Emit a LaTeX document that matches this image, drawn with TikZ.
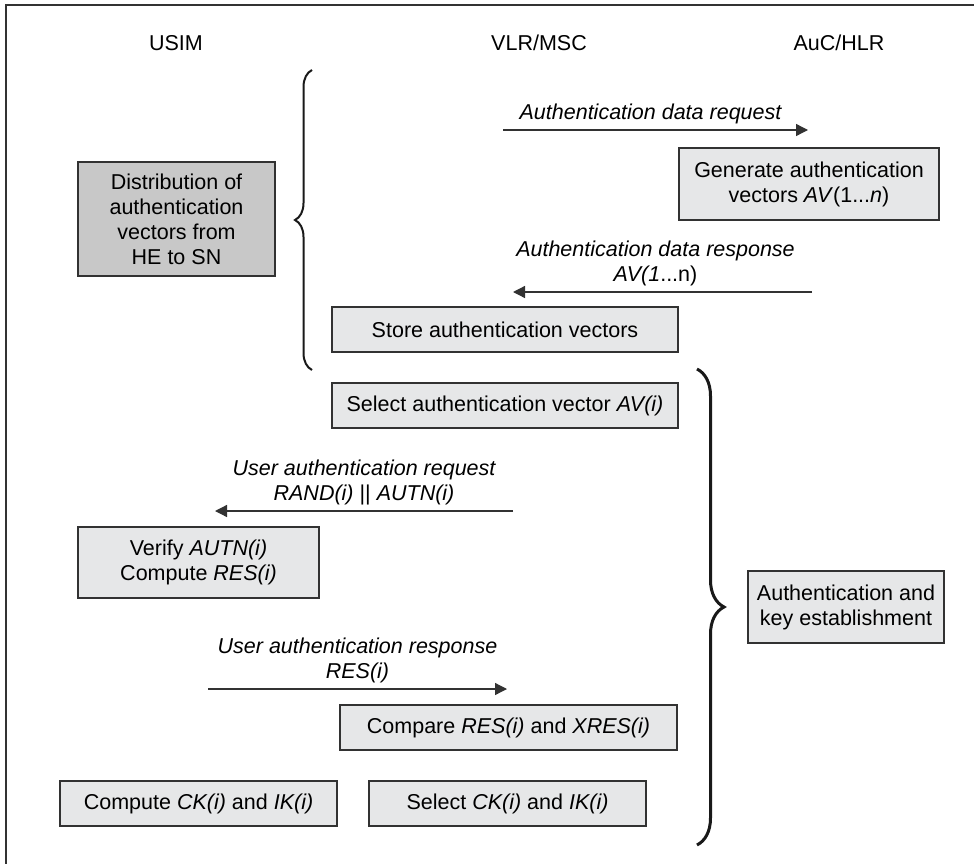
\documentclass[tikz,border=0pt]{standalone}
\usepackage{fontspec}
\setmainfont{Liberation Sans}
\usepackage{tikz}
\usetikzlibrary{arrows.meta, positioning, calc, decorations.pathreplacing}
\definecolor{boxgray}{RGB}{230, 231, 232}
\definecolor{darkgray1}{RGB}{200, 200, 200}
\definecolor{edge1}{RGB}{50, 50, 50}

\begin{document}
\begin{tikzpicture}[
  x=1pt, y=-1pt,
  every node/.style={font=\fontsize{21.5}{25}\selectfont},
  pbox/.style={draw=edge1, line width=1.3pt, fill=boxgray, align=center, inner sep=2pt},
  msg/.style={draw=edge1, line width=1.3pt, -{Triangle[length=12pt, width=12pt]}},
  lbl/.style={align=center, font=\fontsize{21.5}{25}\selectfont\itshape, above=2pt},
  grp/.style={decorate, decoration={brace, amplitude=#1}, draw=black!90}
]
  \useasboundingbox (0,0) rectangle (974,864);
  \draw[edge1, line width=1.5pt] (6,864) -- (6,5) -- (974,5);

  % entities
  \node (usim) at (176, 43) {USIM};
  \node (vlr) at (539, 43) {VLR/MSC};
  \node (auc) at (839, 43) {AuC/HLR};

  % distribution of authentication vectors
  \node[pbox, fill=darkgray1, minimum width=197pt, minimum height=114pt] (dist) at (176.5, 219) {
    Distribution of\\ authentication\\ vectors from\\ HE to SN
  };
  \coordinate (bra-a) at (312, 370);
  \coordinate (bra-b) at (312, 70);
  \draw[grp=17pt, line width=2pt] (bra-a) -- (bra-b);

  \coordinate (req-s) at (503, 130);
  \coordinate (req-e) at (808, 130);
  \draw[msg] (req-s) -- node[lbl, xshift=-5pt] {Authentication data request} (req-e);

  \node[pbox, minimum width=260pt, minimum height=72pt] (gen) at (809, 184) {
    Generate authentication\\ vectors \textit{AV}(1...\textit{n})
  };

  \coordinate (rsp-s) at (812, 292);
  \coordinate (rsp-e) at (513, 292);
  \draw[msg] (rsp-s) -- node[lbl, xshift=-7pt] {Authentication data response\\ \textit{AV}(\textit{1}\upshape...n)} (rsp-e);

  \node[pbox, minimum width=346pt, minimum height=45pt] (store) at (505, 329.5) {Store authentication vectors};

  % authentication and key establishment
  \node[pbox, minimum width=346pt, minimum height=45pt] (selav) at (505, 405.5) {Select authentication vector \textit{AV(i)}};

  \coordinate (ureq-s) at (513, 511);
  \coordinate (ureq-e) at (215, 511);
  \draw[msg] (ureq-s) -- node[lbl] {User authentication request\\ \textit{RAND(i)} \upshape|| \textit{AUTN(i)}} (ureq-e);

  \node[pbox, minimum width=241pt, minimum height=71pt] (verify) at (198.5, 562.5) {
    Verify \textit{AUTN(i)}\\ Compute \textit{RES(i)}
  };

  \coordinate (ursp-s) at (208, 689);
  \coordinate (ursp-e) at (507, 689);
  \draw[msg] (ursp-s) -- node[lbl] {User authentication response\\ RES(i)} (ursp-e);

  \node[pbox, minimum width=337pt, minimum height=45pt] (compare) at (508.5, 727.5) {Compare \textit{RES(i)} and \textit{XRES(i)}};
  \node[pbox, minimum width=277pt, minimum height=45pt] (compck) at (198.5, 803.5) {Compute \textit{CK(i)} and \textit{IK(i)}};
  \node[pbox, minimum width=277pt, minimum height=45pt] (selck) at (507.5, 803.5) {Select \textit{CK(i)} and \textit{IK(i)}};

  \coordinate (brb-a) at (697, 369);
  \coordinate (brb-b) at (697, 845);
  \draw[grp=27pt, line width=3pt] (brb-a) -- (brb-b);
  \node[pbox, minimum width=196pt, minimum height=72pt] (akey) at (846, 607) {
    Authentication and\\ key establishment
  };
\end{tikzpicture}
\end{document}
